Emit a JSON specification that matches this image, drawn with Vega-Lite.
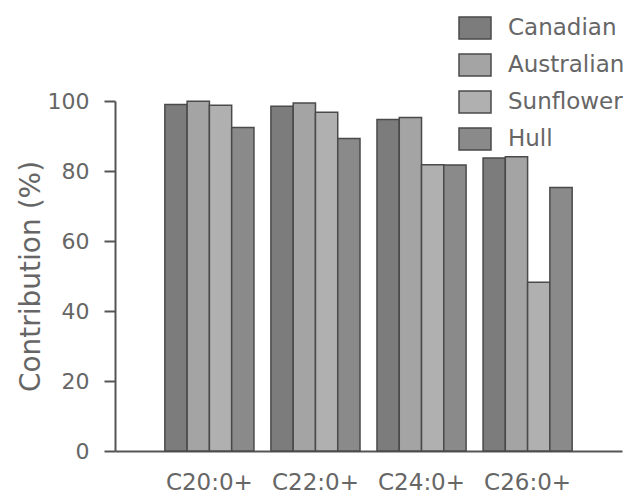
{
  "$schema": "https://vega.github.io/schema/vega-lite/v6.json",
  "width": 507,
  "height": 350,
  "autosize": {"type": "none"},
  "padding": {"left": 115, "top": 101, "right": 7, "bottom": 47},
  "background": "white",
  "config": {
    "font": "DejaVu Sans",
    "view": {"stroke": null}
  },
  "data": {
    "values": [
      {"group": "C20:0+", "series": "Canadian", "value": 99.0},
      {"group": "C20:0+", "series": "Australian", "value": 99.9},
      {"group": "C20:0+", "series": "Sunflower", "value": 98.8},
      {"group": "C20:0+", "series": "Hull", "value": 92.4},
      {"group": "C22:0+", "series": "Canadian", "value": 98.5},
      {"group": "C22:0+", "series": "Australian", "value": 99.4},
      {"group": "C22:0+", "series": "Sunflower", "value": 96.8},
      {"group": "C22:0+", "series": "Hull", "value": 89.3},
      {"group": "C24:0+", "series": "Canadian", "value": 94.7},
      {"group": "C24:0+", "series": "Australian", "value": 95.3},
      {"group": "C24:0+", "series": "Sunflower", "value": 81.8},
      {"group": "C24:0+", "series": "Hull", "value": 81.7},
      {"group": "C26:0+", "series": "Canadian", "value": 83.7},
      {"group": "C26:0+", "series": "Australian", "value": 84.1},
      {"group": "C26:0+", "series": "Sunflower", "value": 48.2},
      {"group": "C26:0+", "series": "Hull", "value": 75.3}
    ]
  },
  "mark": {"type": "bar", "stroke": "#4a4a4a", "strokeWidth": 1.5},
  "encoding": {
    "x": {
      "field": "group",
      "type": "nominal",
      "sort": null,
      "scale": {"paddingInner": 0.16, "paddingOuter": 0.47},
      "axis": {
        "title": null,
        "labelAngle": 0,
        "ticks": false,
        "labelFontSize": 23,
        "labelColor": "#666",
        "labelPadding": 20,
        "domainColor": "#555",
        "domainWidth": 2
      }
    },
    "xOffset": {
      "field": "series",
      "type": "nominal",
      "sort": ["Canadian", "Australian", "Sunflower", "Hull"],
      "scale": {"paddingInner": 0, "paddingOuter": 0}
    },
    "y": {
      "field": "value",
      "type": "quantitative",
      "scale": {"domain": [0, 100], "nice": false},
      "axis": {
        "title": "Contribution (%)",
        "titleFontSize": 28,
        "titleFontWeight": "normal",
        "titleColor": "#666",
        "titleBaseline": "alphabetic",
        "titleX": -76,
        "titleY": 175,
        "values": [0, 20, 40, 60, 80, 100],
        "grid": false,
        "tickSize": 11,
        "tickWidth": 2,
        "tickColor": "#555",
        "domainColor": "#555",
        "domainWidth": 2,
        "labelFontSize": 22,
        "labelColor": "#666",
        "labelPadding": 15
      }
    },
    "color": {
      "field": "series",
      "type": "nominal",
      "sort": ["Canadian", "Australian", "Sunflower", "Hull"],
      "scale": {
        "domain": ["Canadian", "Australian", "Sunflower", "Hull"],
        "range": ["#7c7c7c", "#a4a4a4", "#b0b0b0", "#8a8a8a"]
      },
      "legend": {
        "title": null,
        "orient": "none",
        "legendX": 343,
        "legendY": -90,
        "symbolType": "M-1,-0.69L1,-0.69L1,0.69L-1,0.69Z",
        "symbolSize": 1024,
        "symbolStrokeColor": "#4a4a4a",
        "symbolStrokeWidth": 1.5,
        "labelFontSize": 23,
        "labelColor": "#666",
        "labelOffset": 16,
        "rowPadding": 5
      }
    }
  }
}
